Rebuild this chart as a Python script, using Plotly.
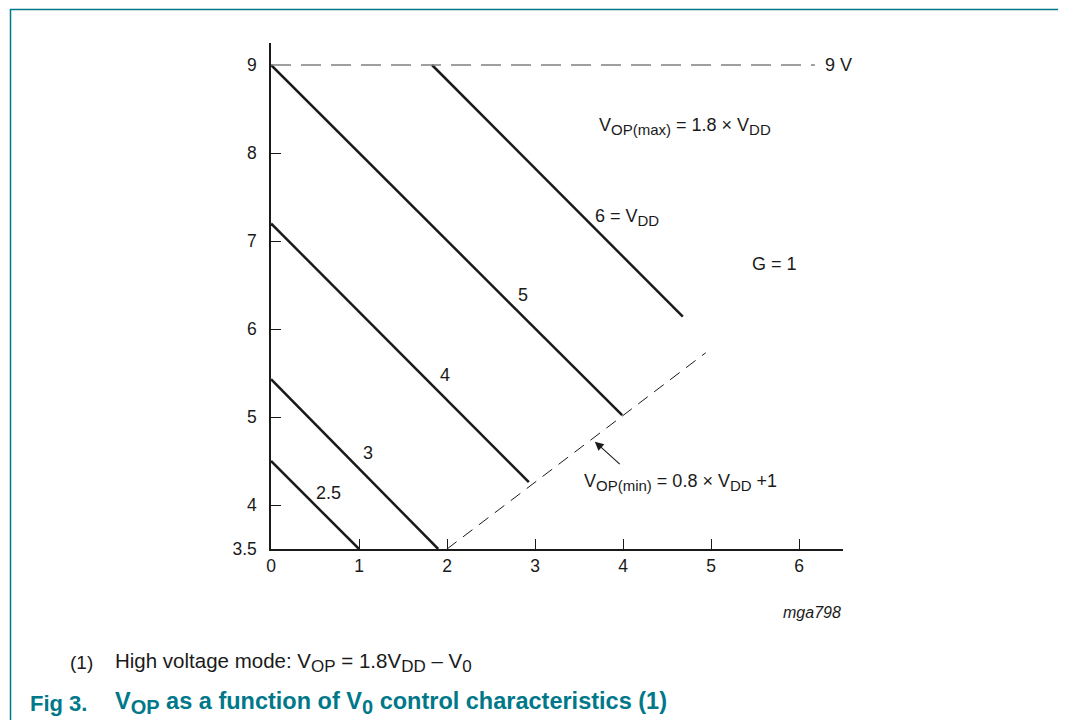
import plotly.graph_objects as go

# ---- data ----
vdd_labels = ["2.5", "3", "4", "5", "6 = V<sub>DD</sub>"]
v0_start = [0.0, 0.0, 0.0, 0.0, 1.83]
vop_start = [4.5, 5.43, 7.2, 9.0, 9.0]
v0_end = [1.0, 1.9, 2.93, 3.99, 4.68]
vop_end = [3.5, 3.5, 4.26, 5.02, 6.14]
label_x = [0.65, 1.10, 1.98, 2.86, 3.66]
label_y = [4.14, 4.59, 5.48, 6.39, 7.27]

vopmin_v0 = [2.0, 4.94]
vopmin_vop = [3.5, 5.73]
vopmax_v0 = [0.0, 6.18]
vopmax_vop = [9.0, 9.0]

x_ticks = [0, 1, 2, 3, 4, 5, 6]
y_ticks = [3.5, 4, 5, 6, 7, 8, 9]
y_minor = [4, 5, 6, 7, 8]
x_minor = [1, 2, 3, 4, 5, 6]

OFF = 8  # page body margin
W, H = 1066, 720
L, R, T, B = 271 - OFF, 1066 - (843 - OFF), 43 - OFF, 720 - (549 - OFF)
pw, ph = W - L - R, H - T - B


def px(xp):
    return (xp - OFF - L) / pw


def py(yp):
    return (H - B - (yp - OFF)) / ph


FONT = "Liberation Sans, Arial, sans-serif"
INK = "#1a1a1a"
TEAL = "#00788a"


def sub(t, size=15):
    return f"<sub><span style='font-size:{size}px'>{t}</span></sub>"


fig = go.Figure()

for i in range(len(vdd_labels)):
    fig.add_trace(go.Scatter(
        x=[v0_start[i], v0_end[i]], y=[vop_start[i], vop_end[i]],
        mode="lines", line=dict(color=INK, width=2.5), showlegend=False,
        hoverinfo="skip"))

fig.add_trace(go.Scatter(x=vopmax_v0, y=vopmax_vop, mode="lines",
                         line=dict(color="#808080", width=1.5, dash="20px,10px"),
                         showlegend=False, hoverinfo="skip"))
fig.add_trace(go.Scatter(x=vopmin_v0, y=vopmin_vop, mode="lines",
                         line=dict(color=INK, width=1, dash="12px,8px"),
                         showlegend=False, hoverinfo="skip"))

labels = list(vdd_labels)
labels[4] = "6 = V" + sub("DD")

ann = []
for i, t in enumerate(labels):
    ann.append(dict(x=label_x[i], y=label_y[i], text=t, showarrow=False,
                    xanchor="left" if i == 4 else "center", yanchor="middle"))

ann += [
    dict(x=6.27, y=9.0, text="9 V", showarrow=False, xanchor="left", yanchor="middle"),
    dict(x=3.70, y=8.30, text="V" + sub("OP(max)") + " = 1.8 × V" + sub("DD"),
         showarrow=False, xanchor="left", yanchor="middle"),
    dict(x=5.72, y=6.74, text="G = 1", showarrow=False, xanchor="center", yanchor="middle"),
    dict(x=3.53, y=4.26, text="V" + sub("OP(min)") + " = 0.8 × V" + sub("DD") + " +1",
         showarrow=False, xanchor="left", yanchor="middle"),
    dict(x=3.68, y=4.72, ax=3.98, ay=4.45, axref="x", ayref="y", text="",
         showarrow=True, arrowhead=2, arrowsize=1.6, arrowwidth=1.1, arrowcolor=INK),
    dict(x=5.55, y=3.11, text="V" + sub("0"), showarrow=False,
         xanchor="center", yanchor="middle"),
    dict(x=-0.52, y=8.55, text="V" + sub("OP"), showarrow=False,
         xanchor="left", yanchor="middle"),
    dict(xref="paper", yref="paper", x=px(843), y=py(612), text="<i>mga798</i>",
         showarrow=False, xanchor="right", yanchor="middle", font=dict(size=16)),
    dict(xref="paper", yref="paper", x=px(68), y=py(662), text="(1)",
         showarrow=False, xanchor="left", yanchor="middle", font=dict(size=19)),
    dict(xref="paper", yref="paper", x=px(113), y=py(662),
         text="High voltage mode: V" + sub("OP", 17) + " = 1.8V" + sub("DD", 17)
              + " – V" + sub("0", 17),
         showarrow=False, xanchor="left", yanchor="middle", font=dict(size=20.5)),
    dict(xref="paper", yref="paper", x=px(28), y=py(703), text="<b>Fig 3.</b>",
         showarrow=False, xanchor="left", yanchor="middle",
         font=dict(size=22, color=TEAL)),
    dict(xref="paper", yref="paper", x=px(113), y=py(703),
         text="<b>V" + sub("OP", 20) + " as a function of V" + sub("0", 20)
              + " control characteristics (1)</b>",
         showarrow=False, xanchor="left", yanchor="middle",
         font=dict(size=23.5, color=TEAL)),
]

fig.add_shape(type="path", xref="paper", yref="paper",
              path=f"M {px(10.5)},{py(760)} L {px(10.5)},{py(9.5)} L {px(1064)},{py(9.5)} L {px(1064)},{py(760)}",
              line=dict(color=TEAL, width=1.5))

fig.update_layout(
    width=W, height=H,
    margin=dict(l=L, r=R, t=T, b=B, pad=0),
    paper_bgcolor="white", plot_bgcolor="white",
    font=dict(family=FONT, size=18, color=INK),
    annotations=ann,
    xaxis=dict(range=[0, 6.5], showgrid=False, zeroline=False,
               showline=True, linecolor=INK, linewidth=1.5,
               tickmode="array", tickvals=x_ticks, ticktext=[str(v) for v in x_ticks],
               ticks="", ticklabelstandoff=0, tickfont=dict(size=17.5),
               minor=dict(tickmode="array", tickvals=x_minor, ticks="inside",
                          ticklen=10, tickwidth=1, tickcolor=INK)),
    yaxis=dict(range=[3.5, 9.25], showgrid=False, zeroline=False,
               showline=True, linecolor=INK, linewidth=1.5,
               tickmode="array", tickvals=y_ticks, ticktext=[str(v) for v in y_ticks],
               ticks="", ticklabelstandoff=9, tickfont=dict(size=17.5),
               minor=dict(tickmode="array", tickvals=y_minor, ticks="inside",
                          ticklen=10, tickwidth=1, tickcolor=INK)),
)

fig.write_html("out.html")
